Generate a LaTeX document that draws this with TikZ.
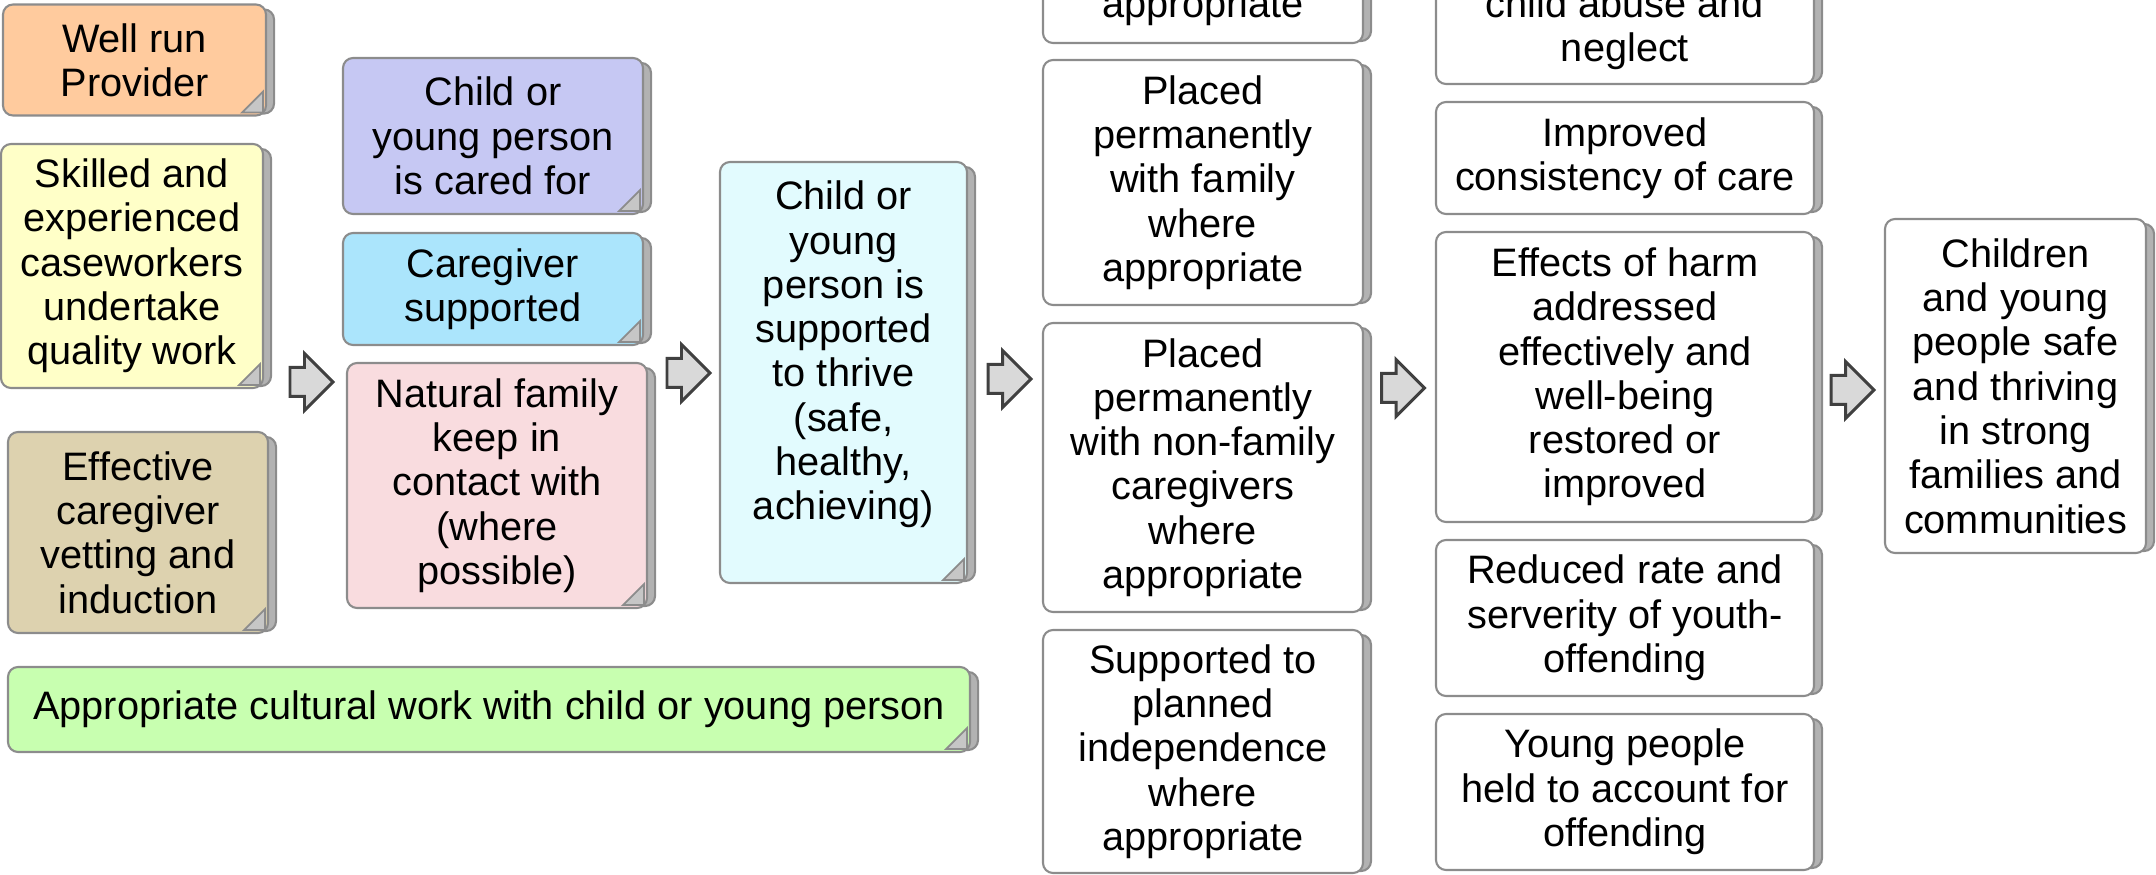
\documentclass[tikz,border=0pt]{standalone}
\usepackage{fontspec}
\setmainfont{Liberation Sans}
\usepackage{xcolor}
\usepackage{tikz}
\usetikzlibrary{calc,backgrounds}

\definecolor{provider}{HTML}{FFCB9E}
\definecolor{skilled}{HTML}{FFFFC8}
\definecolor{vetting}{HTML}{DDD2AF}
\definecolor{cultural}{HTML}{C8FFB0}
\definecolor{cared}{HTML}{C6C8F3}
\definecolor{carer}{HTML}{ABE5FC}
\definecolor{family}{HTML}{F9DCDF}
\definecolor{thrive}{HTML}{E2FBFE}

\begin{document}
\begin{tikzpicture}[x=0.1mm, y=-0.1mm,
    card/.style={draw=gray!90, line width=0.6pt, rounded corners=1mm, align=center, inner sep=0pt, font=\fontsize{11.3}{12.6}\selectfont},
    sz/.style 2 args={minimum width=#1mm, minimum height=#2mm},
    flow/.style={draw=black!75, fill=gray!30, line width=0.85pt},
    stack/.style={draw=gray!90, fill=gray!60, line width=0.6pt, rounded corners=1mm},
    fold/.style={draw=gray!90, fill=gray!45, line width=0.5pt}]
    \useasboundingbox (0,0) rectangle (2156,875);
    \clip (0,0) rectangle (2156,875);

    \node[card, fill=provider, sz={26.3}{11.1}] (prov) at (134.5,60) {Well run\\Provider};
    \node[card, fill=skilled, sz={26.2}{24.4}] (skill) at (132,266) {Skilled and\\experienced\\caseworkers\\undertake\\quality work};
    \node[card, fill=vetting, sz={26}{20.1}] (vet) at (138,532.5) {Effective\\caregiver\\vetting and\\induction};
    \node[card, fill=cultural, sz={96.2}{8.5}] (cult) at (489,709.5) {Appropriate cultural work with child or young person};

    \node[card, fill=cared, sz={30}{15.6}] (cared) at (493,136) {Child or\\young person\\is cared for};
    \node[card, fill=carer, sz={30}{11.2}] (carer) at (493,289) {Caregiver\\supported};
    \node[card, fill=family, sz={30}{24.5}] (family) at (497,485.5) {Natural family\\keep in\\contact with\\(where\\possible)};

    \node[card, fill=thrive, sz={24.7}{42.1}] (thrive) at (843.5,372.5) {Child or\\young\\person is\\supported\\to thrive\\(safe,\\healthy,\\achieving)\\\mbox{}};

    \node[card, fill=white, sz={32}{7.2}] (home) at (1203,7) {appropriate};
    \node[card, fill=white, sz={32}{24.5}] (kin) at (1203,182.5) {Placed\\permanently\\with family\\where\\appropriate};
    \node[card, fill=white, sz={32}{28.9}] (nonkin) at (1203,467.5) {Placed\\permanently\\with non-family\\caregivers\\where\\appropriate};
    \node[card, fill=white, sz={32}{24.3}] (indep) at (1203,751.5) {Supported to\\planned\\independence\\where\\appropriate};

    \node[card, fill=white, sz={37.8}{11}] (abuse) at (1625,29) {child abuse and\\neglect};
    \node[card, fill=white, sz={37.8}{11.2}] (consist) at (1625,158) {Improved\\consistency of care};
    \node[card, fill=white, sz={37.8}{29}] (harm) at (1625,377) {Effects of harm\\addressed\\effectively and\\well-being\\restored or\\improved};
    \node[card, fill=white, sz={37.8}{15.6}] (youth) at (1625,618) {Reduced rate and\\serverity of youth-\\offending};
    \node[card, fill=white, sz={37.8}{15.6}] (account) at (1625,792) {Young people\\held to account for\\offending};

    \node[card, fill=white, sz={26.1}{33.4}] (goal) at (2015.5,386) {Children\\and young\\people safe\\and thriving\\in strong\\families and\\communities};

    \coordinate (f1) at (311.5,382);
    \coordinate (f2) at (688.5,373);
    \coordinate (f3) at (1009.5,379);
    \coordinate (f4) at (1403,388);
    \coordinate (f5) at (1852.5,390);
    \foreach \a in {f1,f2,f3,f4,f5}
        \draw[flow] ($(\a)+(-21.5,-14.5)$) -- ++(14.5,0) -- ++(0,-14) -- ++(28.5,28.5) -- ++(-28.5,28.5) -- ++(0,-14) -- ++(-14.5,0) -- cycle;

    \begin{scope}[on background layer]
        \foreach \n in {prov,skill,vet,cult,cared,carer,family,thrive,home,kin,nonkin,indep,abuse,consist,harm,youth,account,goal}
            \draw[stack] ($(\n.south east)+(-15,-3)$) rectangle ($(\n.north east)+(7,6)$);
    \end{scope}
    \foreach \n in {prov,skill,vet,cult,cared,carer,family,thrive}
        \draw[fold] ($(\n.south east)+(-4,-4)$) -- ++(0,-21) -- ++(-21,21) -- cycle;
\end{tikzpicture}
\end{document}
